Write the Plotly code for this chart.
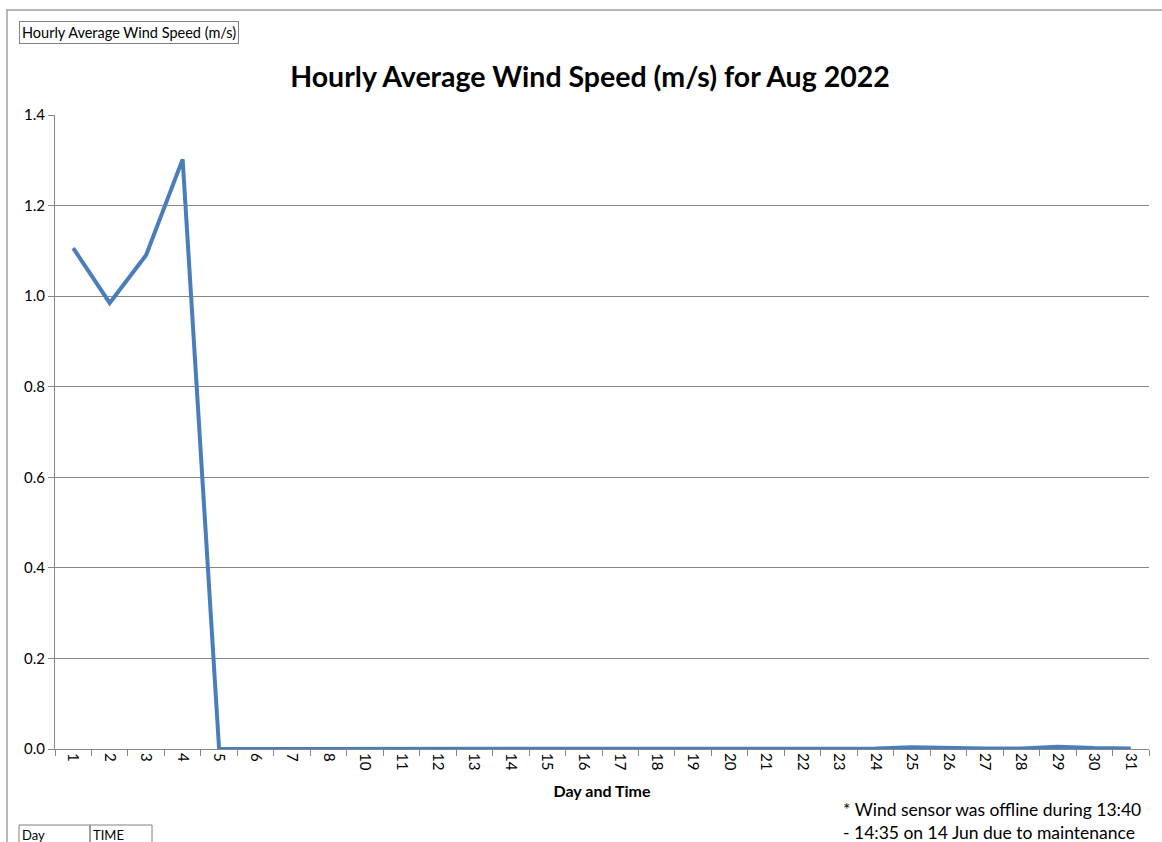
import plotly.graph_objects as go

days = ["1", "2", "3", "4", "5", "6", "7", "8", "10", "11", "12", "13", "14", "15", "16",
        "17", "18", "19", "20", "21", "22", "23", "24", "25", "26", "27", "28", "29", "30", "31"]
wind_speed = [1.106, 0.985, 1.091, 1.302, 0.0, 0.0, 0.0, 0.0, 0.0, 0.0, 0.0, 0.0, 0.0, 0.0, 0.0,
              0.0, 0.0, 0.0, 0.0, 0.0, 0.0, 0.0, 0.001, 0.004, 0.002, 0.001, 0.001, 0.005, 0.002, 0.001]
y_ticks = [0.0, 0.2, 0.4, 0.6, 0.8, 1.0, 1.2, 1.4]

W, H = 1162, 842
L, R, T, B = 55, 13, 115, 93
pw, ph = W - L - R, H - T - B

def px(x):
    return (x - L) / pw

def py(y):
    return (H - B - y) / ph

fig = go.Figure()
fig.add_trace(go.Scatter(x=days, y=wind_speed, mode="lines",
                         line=dict(color="#4a7ebb", width=4), showlegend=False))

font_main = "Lato, 'Open Sans', sans-serif"
fig.update_layout(
    width=W, height=H,
    margin=dict(l=L, r=R, t=T, b=B, autoexpand=False),
    paper_bgcolor="white", plot_bgcolor="white",
    font=dict(family=font_main, color="#000000", size=15),
    title=dict(text="<b>Hourly Average Wind Speed (m/s) for Aug 2022</b>",
               xref="container", x=590 / W, xanchor="center",
               yref="container", y=1 - 77 / H, yanchor="middle",
               font=dict(size=28.5, family=font_main, color="#000000")),
    xaxis=dict(type="category", range=[-0.5, len(days) - 0.5], automargin=False,
               showgrid=False, showline=True, linecolor="#868686",
               linewidth=1, ticks="outside", tickson="boundaries", ticklen=6,
               tickcolor="#868686", tickangle=90, tickfont=dict(size=15),
               title=dict(text="<b>Day and Time</b>", font=dict(size=16), standoff=16),
               zeroline=False),
    yaxis=dict(range=[0, 1.4], automargin=False, tickvals=y_ticks,
               ticktext=[f"{v:.1f}" for v in y_ticks],
               showgrid=True, gridcolor="#868686", gridwidth=1, showline=True,
               linecolor="#868686", ticks="outside", ticklen=6, tickcolor="#868686",
               tickfont=dict(size=15), zeroline=False),
)

# outer chart frame
fig.add_shape(type="rect", xref="paper", yref="paper",
              x0=px(7), x1=px(1175), y0=py(860), y1=py(10),
              line=dict(color="#a0a0a0", width=1.5), layer="below")

# small label box top-left
fig.add_annotation(text="Hourly Average Wind Speed (m/s)", xref="paper", yref="paper",
                   x=px(19), y=py(21), xanchor="left", yanchor="top", showarrow=False,
                   font=dict(size=14.5, family=font_main), bordercolor="#808080",
                   borderwidth=1, borderpad=2, bgcolor="white")

# footnote
fig.add_annotation(text="* Wind sensor was offline during 13:40<br>- 14:35 on 14 Jun due to maintenance",
                   xref="paper", yref="paper", x=px(841), y=py(797), xanchor="left",
                   yanchor="top", align="left", showarrow=False,
                   font=dict(size=17.5, family=font_main))

# bottom-left table cells
for x0, x1, txt in [(19, 90, "Day"), (90, 152, "TIME")]:
    fig.add_shape(type="rect", xref="paper", yref="paper",
                  x0=px(x0), x1=px(x1), y0=py(860), y1=py(825),
                  line=dict(color="#808080", width=1))
    fig.add_annotation(text=txt, xref="paper", yref="paper", x=px(x0 + 1), y=py(825),
                       xanchor="left", yanchor="top", showarrow=False,
                       font=dict(size=13, family=font_main))

fig.write_html("out.html", config={"displayModeBar": False},
               post_script="document.body.style.margin='0px';document.body.style.overflow='hidden';")
